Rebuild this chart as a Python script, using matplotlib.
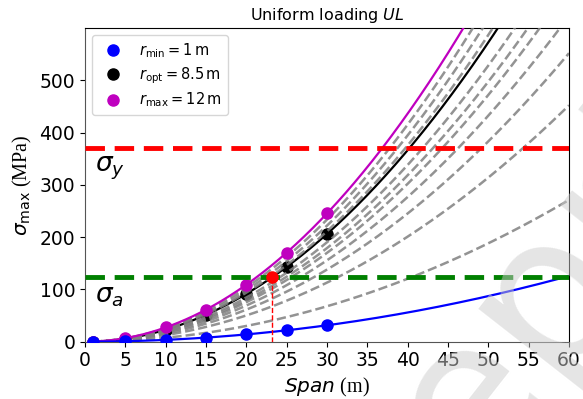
import numpy as np
import matplotlib
matplotlib.use('Agg')
import matplotlib.pyplot as plt

# Sample spans where the stress was evaluated (m)
span_pts = [1, 5, 10, 15, 20, 25, 30]

# Max stress at the sample spans (MPa)
stress_rmin = [0.035, 0.9, 3.5, 7.9, 14.0, 22.0, 31.4]
stress_ropt = [0.23, 5.7, 22.9, 51.5, 91.6, 143.0, 206.0]
stress_rmax = [0.27, 6.8, 27.3, 61.4, 109.0, 170.5, 245.5]

# Quadratic coefficients sigma = k * L^2 for each radius
k_rmin = 0.0349
k_ropt = 0.229
k_rmax = 0.2727
k_others = [0.2596, 0.2467, 0.2347,                      # r = 11, 10, 9 m
            0.2113, 0.199, 0.1888, 0.173, 0.1533, 0.1256, 0.0753]  # r = 8 ... 2 m

sigma_y = 370.0
sigma_a = sigma_y / 3.0

fig = plt.figure(figsize=(5.83, 3.99), dpi=100)
ax = fig.add_axes([0.1458, 0.1436, 0.8302, 0.7862])

L = np.linspace(1, 60, 400)

for k in k_others:
    ax.plot(L, k * L**2, '--', color='gray', lw=1.8, alpha=0.85, zorder=3)

ax.plot(L, k_ropt * L**2, '-', color='k', lw=1.6, zorder=2)
ax.plot(span_pts, stress_ropt, 'o', color='k', ms=8, zorder=2)

ax.plot(L, k_rmax * L**2, '-', color='m', lw=1.6, zorder=4)
ax.plot(span_pts, stress_rmax, 'o', color='m', ms=8, zorder=4)

ax.plot(L, k_rmin * L**2, '-', color='b', lw=1.6, zorder=4)
ax.plot(span_pts, stress_rmin, 'o', color='b', ms=8, zorder=4)

# yield and allowable stress
ax.axhline(sigma_y, color='r', ls='--', lw=3.5, dashes=(4, 2), zorder=5)
ax.axhline(sigma_a, color='g', ls='--', lw=3.5, dashes=(4, 2), zorder=5)
ax.text(1.3, sigma_y - 12, r'$\sigma_y$', fontsize=19, va='top', ha='left')
ax.text(1.3, sigma_a - 12, r'$\sigma_a$', fontsize=19, va='top', ha='left')

# allowable span for the optimal radius
L_allow = np.sqrt(sigma_a / k_ropt)
ax.plot([L_allow, L_allow], [0, sigma_a], '--', color='r', lw=1, zorder=5)
ax.plot(L_allow, sigma_a, 'o', color='r', ms=8, zorder=6)

# legend with markers only
h1, = ax.plot([], [], 'o', color='b', ms=8, label=r'$r_\mathrm{min} = 1\,\mathrm{m}$')
h2, = ax.plot([], [], 'o', color='k', ms=8, label=r'$r_\mathrm{opt} = 8.5\,\mathrm{m}$')
h3, = ax.plot([], [], 'o', color='m', ms=8, label=r'$r_\mathrm{max} = 12\,\mathrm{m}$')
ax.legend(handles=[h1, h2, h3], loc='upper left', fontsize=10.5, labelspacing=0.35)

ax.set_xlim(0, 60)
ax.set_ylim(0, 600)
ax.set_xticks(np.arange(0, 61, 5))
ax.set_yticks(np.arange(0, 501, 100))
ax.tick_params(labelsize=13.5)
for s in ['left', 'bottom']:
    ax.spines[s].set_color('#555555')

ax.set_title(r'Uniform loading $UL$', fontsize=11.5)
ax.set_xlabel(r'$Span$ (m)', fontsize=14.5, fontfamily='Liberation Serif')
ax.set_ylabel(r'$\sigma_\mathrm{max}$ (MPa)', fontsize=14.5, fontfamily='Liberation Serif')

# watermark
fig.text(0.95, 0.30, 'Preprint', fontsize=150, rotation=52, color='#cccccc',
         alpha=0.5, ha='center', va='center', zorder=20)

fig.savefig('out.png', dpi=100)
